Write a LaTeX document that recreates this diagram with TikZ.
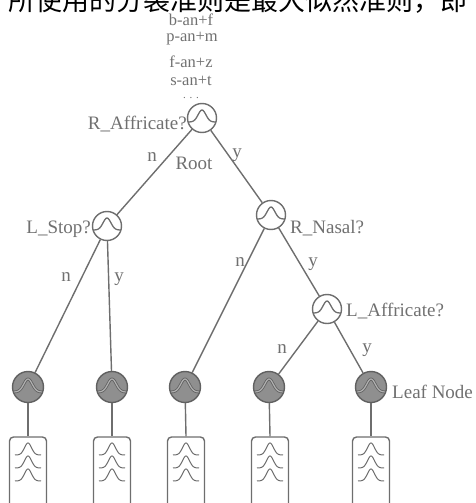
\documentclass[tikz,border=0pt]{standalone}
\usepackage{fontspec}
\setmainfont{Liberation Serif}
\newfontfamily\cjk{Noto Sans CJK SC}
\definecolor{linec}{HTML}{6E6E6E}
\definecolor{txtc}{HTML}{707070}
\definecolor{leaffill}{HTML}{8F8F8F}
\definecolor{leafline}{HTML}{606060}
\definecolor{leafin}{HTML}{B0B0B0}
\begin{document}
\begin{tikzpicture}[x=1pt,y=-1pt,
  edge/.style={draw=linec, line width=1.4pt},
  lbl/.style={text=txtc, font=\fontsize{19}{19}\selectfont, inner sep=0pt},
  ctx/.style={text=txtc, font=\fontsize{16.5}{16.5}\selectfont, inner sep=0pt},
  bell/.style={draw=linec, line width=1pt},
  qnode/.style={circle, draw=linec, line width=1.4pt, fill=white, minimum size=29pt, inner sep=0pt,
    path picture={\draw[linec, line width=1.3pt, shift={(path picture bounding box.center)}]
      plot[domain=-15:15, samples=31, smooth] (\x,{4-12*exp(-1*(\x/5.5)*(\x/5.5))});}},
  leafnode/.style={circle, draw=leafline, line width=1.4pt, fill=leaffill, minimum size=31pt, inner sep=0pt,
    path picture={\draw[leafline, line width=0.8pt, double=leafin, double distance=1.2pt, shift={(path picture bounding box.center)}]
      plot[domain=-16:16, samples=31, smooth] (\x,{5-13*exp(-1*(\x/6)*(\x/6))});}},
  hmmbox/.style={rectangle, rounded corners=4pt, draw=linec, line width=1.4pt, fill=white,
    minimum width=37pt, minimum height=72pt, inner sep=0pt}
]
\useasboundingbox (0,0) rectangle (475,503);
\clip (0,0) rectangle (475,503);

% cropped caption line
\node[anchor=base west, inner sep=0pt, font=\cjk\fontsize{27}{27}\selectfont] (cap) at (8,11) {所使用的分裂准则是最大似然准则，即};

% context labels above the root
\node[ctx] (c1) at (191,20) {b-an+f};
\node[ctx] (c2) at (192,39) {p-an+m};
\node[ctx] (c3) at (191,62) {f-an+z};
\node[ctx] (c4) at (191,81) {s-an+t};
\node[text=txtc, font=\fontsize{11}{11}\selectfont, inner sep=0pt] (c5) at (191,98) {.\,\,.\,\,.};

% question nodes
\node[qnode] (root) at (202,118) {};
\node[qnode] (lstop) at (107,226) {};
\node[qnode] (rnasal) at (271,215) {};
\node[qnode] (laffr) at (327,309) {};

\node[lbl, anchor=east] (troot) at (187,124) {R\_Affricate?};
\node[lbl] (rootlbl) at (194,163) {Root};
\node[lbl, anchor=east] (tlstop) at (91,229) {L\_Stop?};
\node[lbl, anchor=west] (trnasal) at (290,228) {R\_Nasal?};
\node[lbl, anchor=west] (tlaffr) at (346,311) {L\_Affricate?};

% leaves
\node[leafnode] (l1) at (28,387) {};
\node[leafnode] (l2) at (112,387) {};
\node[leafnode] (l3) at (185,387) {};
\node[leafnode] (l4) at (269,387) {};
\node[leafnode] (l5) at (371,387) {};
\node[lbl, anchor=west] (tleaf) at (392,392) {Leaf Node};

% HMM state boxes (top edge at y=437)
\foreach \i/\cx in {1/28,2/112,3/186,4/270,5/371}{
  \node[hmmbox] (b\i) at (\cx,473) {};
  \foreach \pk in {443,456,469}{
    \draw[bell] plot[domain=-13:13, samples=41, smooth] ({\cx+\x},{\pk+12-12*exp(-1*(\x/5)*(\x/5))});
  }
}

% edges
\draw[edge] (root) -- (lstop);
\draw[edge] (root) -- (rnasal);
\draw[edge] (lstop) -- (l1);
\draw[edge] (lstop) -- (l2);
\draw[edge] (rnasal) -- (l3);
\draw[edge] (rnasal) -- (laffr);
\draw[edge] (laffr) -- (l4);
\draw[edge] (laffr) -- (l5);
\foreach \i in {1,...,5}{\draw[edge] (l\i) -- (b\i.north);}

% edge labels
\node[lbl] (n0) at (152,157) {n};
\node[lbl] (y0) at (237,155) {y};
\node[lbl] (n1) at (66,277) {n};
\node[lbl] (y1) at (119,279) {y};
\node[lbl] (n2) at (240,262) {n};
\node[lbl] (y2) at (313,264) {y};
\node[lbl] (n3) at (282,349) {n};
\node[lbl] (y3) at (367,350) {y};
\end{tikzpicture}
\end{document}
